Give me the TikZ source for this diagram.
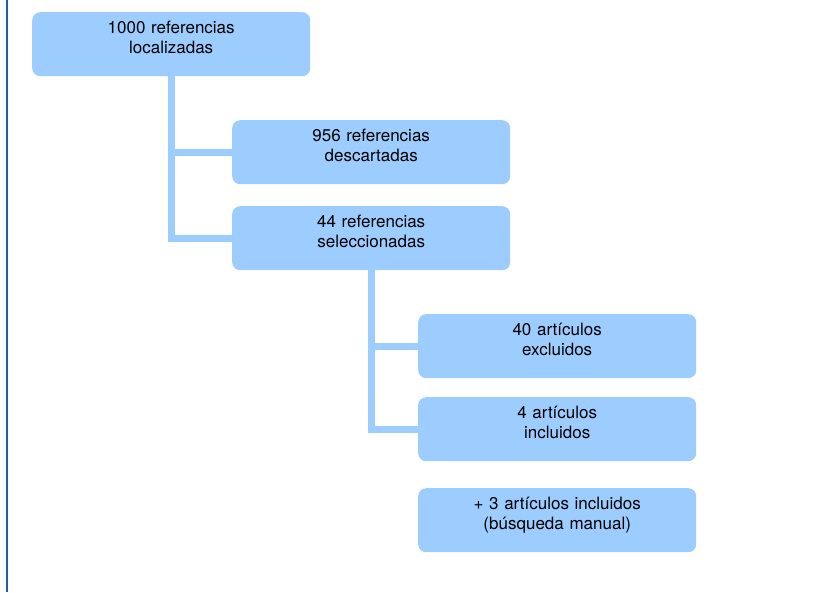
\documentclass[tikz,border=0pt]{standalone}
\usepackage{fontspec}
\setmainfont{TeX Gyre Heros}
\usepackage{xcolor}

\definecolor{boxblue}{RGB}{157,204,255}
\definecolor{edgeblue}{RGB}{38,94,156}

\begin{document}
\begin{tikzpicture}[x=1pt,y=-1pt,
	refbox/.style={fill=boxblue, rounded corners=8pt, anchor=north west, text width=262pt, align=center, inner xsep=8pt, inner ysep=9pt, text height=12pt, text depth=34pt, font=\fontsize{17}{20}\selectfont},
	link/.style={draw=boxblue, line width=7pt}]
		
		\useasboundingbox (0,0) rectangle (840,592);
		\draw[edgeblue, line width=2pt] (6.5,0) -- (6.5,592);
		
		\node[refbox] (loc) at (32,12) {1000 referencias\\localizadas};
		\node[refbox] (desc) at (232,120) {956 referencias\\descartadas};
		\node[refbox] (sel) at (232,206) {44 referencias\\seleccionadas};
		\node[refbox] (excl) at (418,314) {40 artículos\\excluidos};
		\node[refbox] (incl) at (418,397) {4 artículos\\incluidos};
		\node[refbox] (manual) at (418,488) {+ 3 artículos incluidos\\(búsqueda manual)};
		
		\draw[link] (loc.south) |- (desc.west);
		\draw[link] (loc.south) |- (sel.west);
		\draw[link] (sel.south) |- (excl.west);
		\draw[link] (sel.south) |- (incl.west);
		\end{tikzpicture}
\end{document}
